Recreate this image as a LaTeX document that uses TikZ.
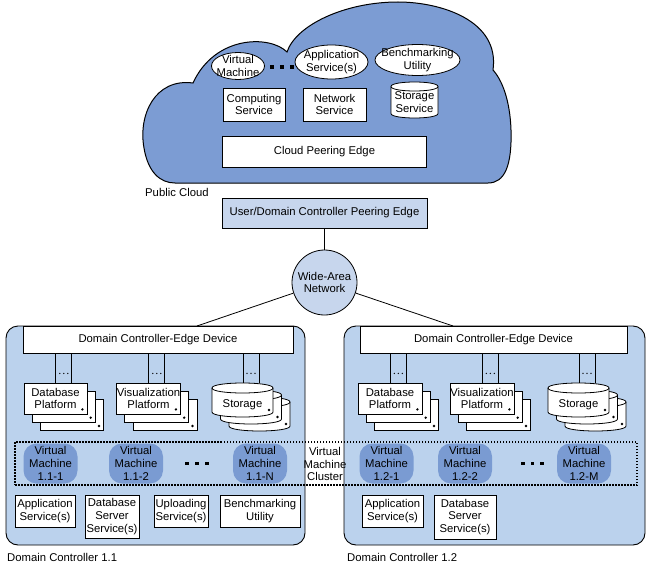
\documentclass[tikz,border=0pt]{standalone}
\usepackage{fontspec}
\setmainfont{Liberation Sans}
\usetikzlibrary{calc}
\definecolor{cloudblue}{RGB}{124,156,211}
\definecolor{dcblue}{RGB}{187,210,237}
\definecolor{peerblue}{RGB}{199,214,237}
\definecolor{vmblue}{RGB}{122,155,210}
\newcommand\mycyl[5]{% cx, top, bottom, hw, ry
  \filldraw[fill=white, line width=0.8pt] (#1-#4,#2+#5) -- (#1-#4,#3-#5)
    .. controls (#1-#4,#3-#5+1.333*#5) and (#1+#4,#3-#5+1.333*#5) .. (#1+#4,#3-#5)
    -- (#1+#4,#2+#5)
    .. controls (#1+#4,#2+#5-1.333*#5) and (#1-#4,#2+#5-1.333*#5) .. (#1-#4,#2+#5) -- cycle;
  \draw[line width=0.8pt] (#1-#4,#2+#5) .. controls (#1-#4,#2+#5+1.333*#5) and (#1+#4,#2+#5+1.333*#5) .. (#1+#4,#2+#5);
}
\newcommand\boxstack[6]{% name, cx, cy, w, h, text
  \node[box, minimum width=#4pt, minimum height=#5pt] (#1c) at (#2+16.6,#3+16.6) {};
  \fill ($(#1c.south east)+(-5,-5)$) circle (1.3);
  \node[box, minimum width=#4pt, minimum height=#5pt] (#1b) at (#2+8.3,#3+8.3) {};
  \fill ($(#1b.south east)+(-5,-5)$) circle (1.3);
  \node[box, minimum width=#4pt, minimum height=#5pt] (#1) at (#2,#3) {#6};
  \fill ($(#1.south east)+(-5,-5)$) circle (1.3);
}
\newcommand\cylstack[4]{% name, cx, cy, text
  \mycyl{#2+17}{#3+14-17}{#3+14+17}{30.5}{5}
  \fill (#2+17+26.5,#3+14+10) circle (1.3);
  \mycyl{#2+8.5}{#3+7-17}{#3+7+17}{30.5}{5}
  \fill (#2+8.5+26.5,#3+7+10) circle (1.3);
  \mycyl{#2}{#3-17}{#3+17}{30.5}{5}
  \fill (#2+26.5,#3+10) circle (1.3);
  \node[inner sep=0pt, minimum width=61pt, minimum height=34pt] (#1b) at (#2+8.5,#3+7) {};
  \node[inner sep=0pt, minimum width=61pt, minimum height=34pt] (#1) at (#2,#3) {};
  \node[txt] (#1t) at (#2,#3+5) {#4};
}
\newcommand\dlink[2]{% stack name, edge name
  \path (#1b.north) ++(-8,0) coordinate (#1p);
  \path (#1b.north) ++(8,0) coordinate (#1q);
  \draw[link] (#1p |- #2.south) -- (#1p |- #1.north);
  \draw[link] (#1q |- #2.south) -- (#1q |- #1.north);
  \path (#1b.north |- #2.south) ++(0,20) coordinate (#1m);
  \fill ($(#1m)+(-4,0)$) circle (0.7);
  \fill (#1m) circle (0.7);
  \fill ($(#1m)+(4,0)$) circle (0.7);
}
\begin{document}
\begin{tikzpicture}[x=1pt,y=-1pt, font=\fontsize{11.3}{12.7}\selectfont,
  box/.style={draw, fill=white, line width=0.8pt, align=center, inner sep=0pt},
  txt/.style={align=center, inner sep=0pt},
  oval/.style={draw, fill=white, line width=0.8pt},
  vm/.style={fill=vmblue, rounded corners=13pt, align=center, inner sep=0pt, minimum width=54pt, minimum height=40pt},
  sq/.style={fill=black, minimum size=3.2pt, inner sep=0pt},
  dc/.style={draw, fill=dcblue, rounded corners=12pt, line width=0.9pt},
  link/.style={line width=0.8pt}]
\useasboundingbox (0,0) rectangle (650,567);
\fill[white] (0,0) rectangle (650,567);
% cloud
\filldraw[fill=cloudblue, line width=1pt] (175,183) -- (488,183)
 .. controls (505,183) and (512,165) .. (511,130)
 .. controls (510,100) and (502,80) .. (493,70)
 .. controls (500,20) and (440,2) .. (398,2)
 .. controls (345,2) and (296,25) .. (287,52)
 .. controls (270,35) and (215,35) .. (193,83)
 .. controls (155,78) and (138,115) .. (144,148)
 .. controls (148,172) and (160,183) .. (175,183) -- cycle;
\draw[oval] (238,66) ellipse [x radius=26.5, y radius=13.5];
\node[txt] (vmc) at (238,66) {Virtual\\Machine};
\draw[oval] (331.5,62) ellipse [x radius=36.5, y radius=17];
\node[txt] (appc) at (331.5,62) {Application\\Service(s)};
\draw[oval] (417.5,60) ellipse [x radius=42.5, y radius=15.5];
\node[txt] (bmc) at (417.5,60) {Benchmarking\\Utility};
\node[sq] (cd1) at (272,67) {};
\node[sq] (cd2) at (282,67) {};
\node[sq] (cd3) at (292,67) {};
\node[box, minimum width=62pt, minimum height=33pt] (comp) at (254,104.5) {Computing\\Service};
\node[box, minimum width=63pt, minimum height=33pt] (net) at (334.5,104.5) {Network\\Service};
\mycyl{414.5}{82}{118}{23.5}{4.5}
\node[txt] (stsvc) at (414.5,102) {Storage\\Service};
\node[box, minimum width=204pt, minimum height=31pt] (cpe) at (324.5,152) {Cloud Peering Edge};
\node[anchor=west, inner sep=0pt] (pc) at (145,192) {Public Cloud};
% peering edge and WAN
\node[box, fill=peerblue, minimum width=205pt, minimum height=30pt] (ucpe) at (324.5,213) {User/Domain Controller Peering Edge};
\node[circle, draw, fill=peerblue, line width=0.8pt, minimum size=65pt, inner sep=0pt, align=center] (wan) at (324.5,282.5) {Wide-Area\\Network};
\draw[link] (ucpe) -- (wan);
% containers
\draw[dc] (6,326) rectangle (305,545);
\draw[dc] (344,326) rectangle (645,545);
\node[box, minimum width=270pt, minimum height=27pt] (edgeL) at (158,339.5) {Domain Controller-Edge Device};
\node[box, minimum width=267pt, minimum height=27pt] (edgeR) at (493.5,339.5) {Domain Controller-Edge Device};
\coordinate (eL) at (197,326);
\coordinate (eR) at (453,326);
\draw[link] (wan) -- (eL);
\draw[link] (wan) -- (eR);
% stacks
\boxstack{dbL}{55.5}{398.5}{63}{31}{Database\\Platform}
\boxstack{visL}{148.5}{398.5}{64}{31}{Visualization\\Platform}
\cylstack{stL}{242.5}{400}{Storage}
\boxstack{dbR}{390}{398.5}{64}{31}{Database\\Platform}
\boxstack{visR}{482}{398.5}{64}{31}{Visualization\\Platform}
\cylstack{stR}{578.5}{400}{Storage}
\dlink{dbL}{edgeL}
\dlink{visL}{edgeL}
\dlink{stL}{edgeL}
\dlink{dbR}{edgeR}
\dlink{visR}{edgeR}
\dlink{stR}{edgeR}
% VM cluster
\node[draw, dash pattern=on 1.5pt off 1.5pt, line width=1.2pt, minimum width=622pt, minimum height=43pt, inner sep=0pt] (cluster) at (326,463.5) {};
\node[txt] (clt) at (325,464) {Virtual\\Machine\\Cluster};
\node[vm] (vm11) at (50.5,463.5) {Virtual\\Machine\\1.1-1};
\node[vm] (vm12) at (136,463.5) {Virtual\\Machine\\1.1-2};
\node[vm] (vm1n) at (260,463.5) {Virtual\\Machine\\1.1-N};
\node[sq] (ld1) at (187,463.5) {};
\node[sq] (ld2) at (197,463.5) {};
\node[sq] (ld3) at (207,463.5) {};
\node[vm] (vm21) at (386.5,463.5) {Virtual\\Machine\\1.2-1};
\node[vm] (vm22) at (465,463.5) {Virtual\\Machine\\1.2-2};
\node[vm] (vm2m) at (584,463.5) {Virtual\\Machine\\1.2-M};
\node[sq] (rd1) at (523,463.5) {};
\node[sq] (rd2) at (532.5,463.5) {};
\node[sq] (rd3) at (542,463.5) {};
% bottom services
\node[box, minimum width=60pt, minimum height=32pt] (appL) at (45,511) {Application\\Service(s)};
\node[box, minimum width=54pt, minimum height=43pt] (dbsL) at (112,516.5) {Database\\Server\\Service(s)};
\node[box, minimum width=54pt, minimum height=32pt] (upL) at (181,511) {Uploading\\Service(s)};
\node[box, minimum width=80pt, minimum height=32pt] (bmL) at (260,511) {Benchmarking\\Utility};
\node[box, minimum width=61pt, minimum height=32pt] (appR) at (392.5,511) {Application\\Service(s)};
\node[box, minimum width=62pt, minimum height=44pt] (dbsR) at (465,517) {Database\\Server\\Service(s)};
% labels
\node[anchor=west, inner sep=0pt] (dc11) at (7,557) {Domain Controller 1.1};
\node[anchor=west, inner sep=0pt] (dc12) at (347,557) {Domain Controller 1.2};
\end{tikzpicture}
\end{document}
